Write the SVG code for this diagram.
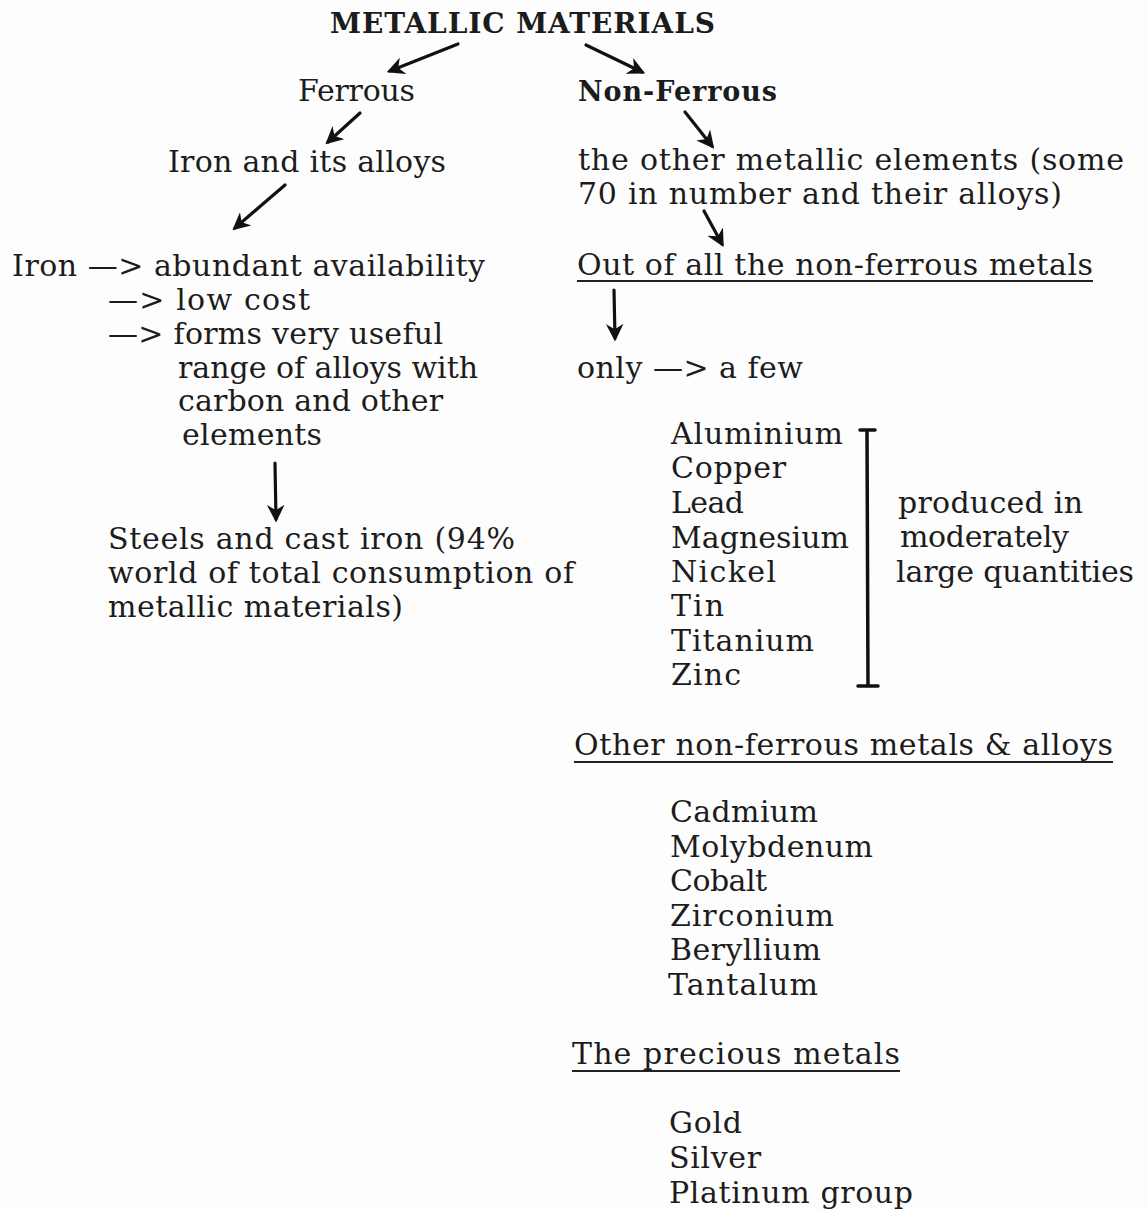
<svg xmlns="http://www.w3.org/2000/svg" width="1147" height="1210" viewBox="0 0 1147 1210">
<style>
text{font-family:"DejaVu Serif","Liberation Serif",serif;font-size:30px;fill:#1c1c1c}
.b{font-weight:bold}
.t{font-size:28px}
.n{font-size:27px}
.c{stroke:#111;stroke-width:3.2;fill:none;stroke-linecap:round}
.u{stroke:#222;stroke-width:1.8}
</style>
<defs>
<marker id="ah" viewBox="0 0 10 10" refX="8" refY="5" markerWidth="5.5" markerHeight="5.5" orient="auto" markerUnits="strokeWidth">
<path d="M0,0 L10,5 L0,10 L3,5 Z" fill="#111"/>
</marker>
</defs>
<rect width="1147" height="1210" fill="#fdfdfd"/>
<g id="connectors">
<line class="c" x1="458" y1="44" x2="390" y2="71" marker-end="url(#ah)"/>
<line class="c" x1="586" y1="45" x2="642" y2="72" marker-end="url(#ah)"/>
<line class="c" x1="360" y1="113" x2="328" y2="142" marker-end="url(#ah)"/>
<line class="c" x1="285" y1="185" x2="235" y2="228" marker-end="url(#ah)"/>
<line class="c" x1="685" y1="112" x2="712" y2="146" marker-end="url(#ah)"/>
<line class="c" x1="704" y1="211" x2="722" y2="244" marker-end="url(#ah)"/>
<line class="c" x1="614" y1="290" x2="615" y2="338" marker-end="url(#ah)"/>
<line class="c" x1="275" y1="463" x2="276" y2="519" marker-end="url(#ah)"/>
</g>
<g id="metallic"><text class="b t" x="330" y="33" textLength="385">METALLIC MATERIALS</text></g>
<g id="ferrous"><text x="298" y="101" textLength="117">Ferrous</text></g>
<g id="nonferrous"><text class="b n" x="578" y="101" textLength="199">Non-Ferrous</text></g>
<g id="iron-alloys"><text x="168" y="172" textLength="278">Iron and its alloys</text></g>
<g id="other-elements">
<text x="578" y="170" textLength="546">the other metallic elements (some</text>
<text x="578" y="204" textLength="484">70 in number and their alloys)</text>
</g>
<g id="iron">
<text x="12" y="276" textLength="473">Iron —&gt;  abundant availability</text>
<text x="108" y="310" textLength="202">—&gt; low cost</text>
<text x="108" y="344" textLength="335">—&gt; forms very useful</text>
<text x="178" y="378" textLength="300">range of alloys with</text>
<text x="178" y="411" textLength="265">carbon and other</text>
<text x="182" y="445" textLength="140">elements</text>
</g>
<g id="steels">
<text x="108" y="549" textLength="407">Steels and cast iron (94%</text>
<text x="108" y="583" textLength="466">world of total consumption of</text>
<text x="108" y="617" textLength="295">metallic materials)</text>
</g>
<g id="out-of-all">
<text x="577" y="275" textLength="516">Out of all the non-ferrous metals</text>
<line class="u" x1="577" y1="281" x2="1093" y2="281"/>
</g>
<g id="only"><text x="577" y="378" textLength="226">only —&gt; a few</text></g>
<g id="few-list">
<text x="671" y="444" textLength="172">Aluminium</text>
<text x="671" y="478" textLength="115">Copper</text>
<text x="671" y="513" textLength="73">Lead</text>
<text x="671" y="548" textLength="178">Magnesium</text>
<text x="671" y="582" textLength="105">Nickel</text>
<text x="671" y="616" textLength="53">Tin</text>
<text x="671" y="651" textLength="143">Titanium</text>
<text x="671" y="685" textLength="70">Zinc</text>
</g>
<g id="bracket">
<path d="M860,430 L875,430 M867,430 L868,686 M858,686 L878,686" stroke="#111" stroke-width="3.5" fill="none" stroke-linecap="round"/>
</g>
<g id="produced">
<text x="898" y="513" textLength="185">produced in</text>
<text x="900" y="547" textLength="169">moderately</text>
<text x="896" y="582" textLength="238">large quantities</text>
</g>
<g id="other-nonferrous">
<text x="574" y="755" textLength="539">Other non-ferrous metals &amp; alloys</text>
<line class="u" x1="574" y1="762" x2="1113" y2="762"/>
</g>
<g id="other-list">
<text x="670" y="822" textLength="148">Cadmium</text>
<text x="670" y="857" textLength="203">Molybdenum</text>
<text x="670" y="891" textLength="97">Cobalt</text>
<text x="670" y="926" textLength="164">Zirconium</text>
<text x="670" y="960" textLength="151">Beryllium</text>
<text x="668" y="995" textLength="150">Tantalum</text>
</g>
<g id="precious">
<text x="572" y="1064" textLength="328">The precious metals</text>
<line class="u" x1="572" y1="1071" x2="900" y2="1071"/>
</g>
<g id="precious-list">
<text x="669" y="1133" textLength="73">Gold</text>
<text x="669" y="1168" textLength="92">Silver</text>
<text x="669" y="1203" textLength="244">Platinum group</text>
</g>
</svg>
